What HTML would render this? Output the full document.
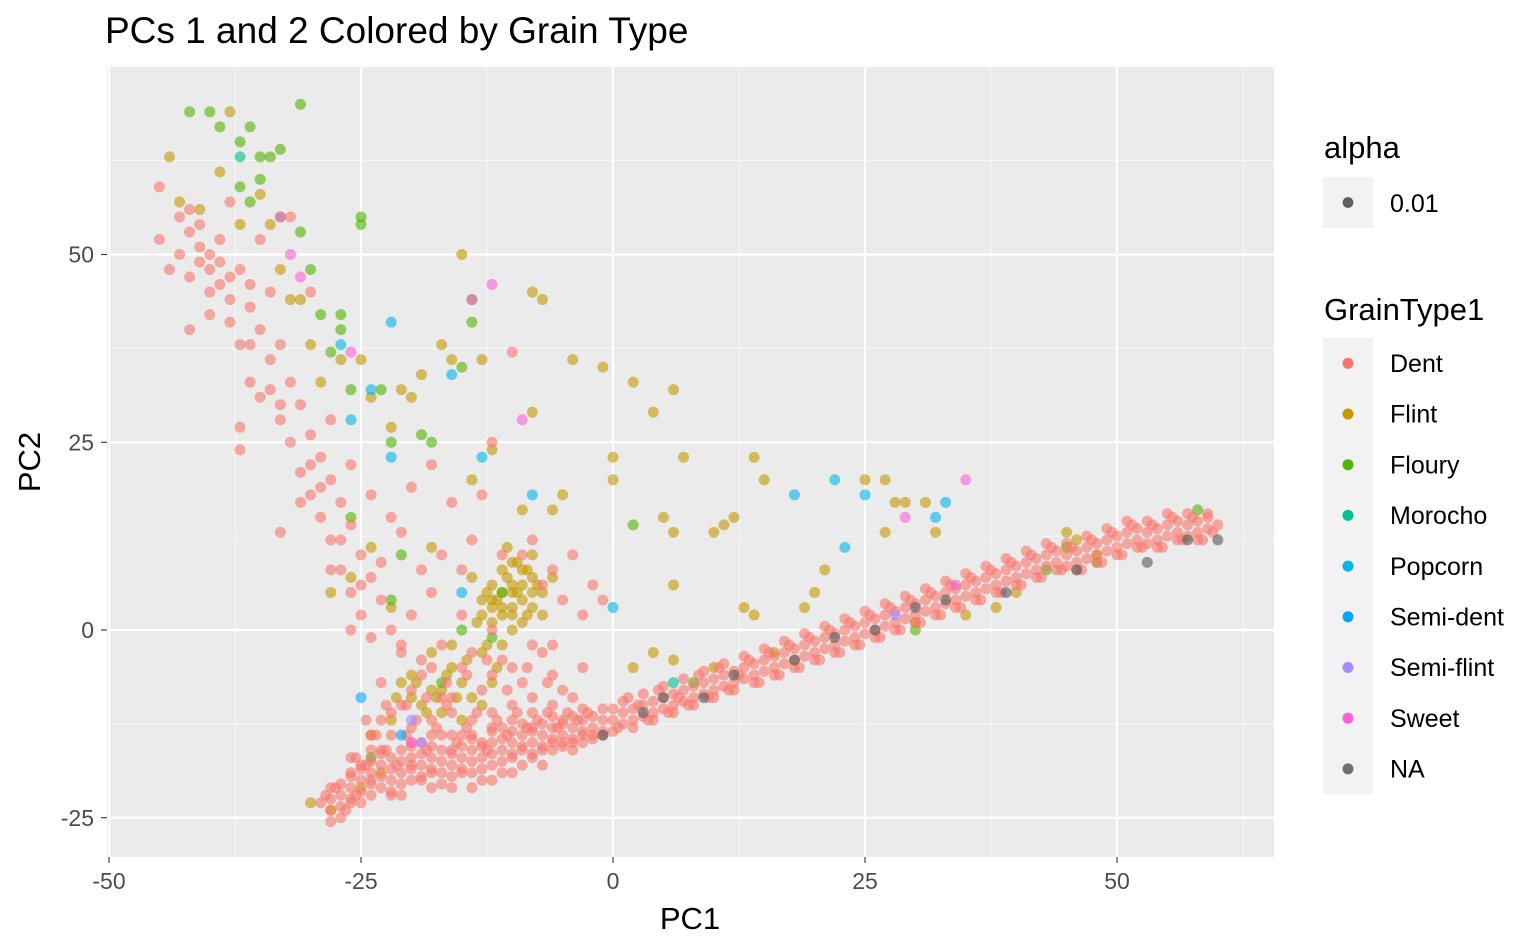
<!DOCTYPE html>
<html><head><meta charset="utf-8"><style>
html,body{margin:0;padding:0;background:#fff;width:1540px;height:951px;overflow:hidden}
svg text{font-family:"Liberation Sans",Arial,sans-serif}
</style></head><body>
<svg id="chart" width="1540" height="951" xmlns="http://www.w3.org/2000/svg">
<text x="105" y="43" font-size="37" fill="#000">PCs 1 and 2 Colored by Grain Type</text>
<rect x="107" y="67" width="1167" height="790" fill="#EBEBEB"/>
<g id="grid"></g><g id="pts"></g><g id="axes"></g>
<text x="690" y="929" font-size="31" text-anchor="middle">PC1</text>
<text transform="translate(40,462) rotate(-90)" font-size="31" text-anchor="middle">PC2</text>
<g id="legend"></g>
</svg>
<script>
const xTicks=[-50,-25,0,25,50];
const yTicks=[-25,0,25,50];
const groups=["Flint","Floury","Dent","Morocho","Popcorn","Semi-dent","Semi-flint","Sweet","NA"];
const legendOrder=["Dent","Flint","Floury","Morocho","Popcorn","Semi-dent","Semi-flint","Sweet","NA"];
const colors={Dent:"#F8766D",Flint:"#C49A00",Floury:"#53B400",Morocho:"#00C094",Popcorn:"#00B6EB","Semi-dent":"#06A4FF","Semi-flint":"#A58AFF",Sweet:"#FB61D7",NA:"#595959"};
const dent=[[-28,-24],[-27,-22],[-26,-21],[-25,-20],[-24,-19],[-23,-18],[-22,-20],[-21,-19],[-20,-17],[-19,-18],[-18,-17],[-17,-19],[-16,-18],[-15,-17],[-14,-16],[-13,-17],[-12,-15],[-11,-16],[-10,-15],[-9,-14],[-8,-15],[-7,-14],[-6,-13],[-5,-14],[-4,-13],[-3,-12],[-2,-13],[-1,-12],[0,-12],[1,-11],[2,-12],[3,-10],[4,-11],[5,-9],[6,-10],[7,-8],[8,-9],[9,-7],[10,-8],[11,-6],[12,-7],[13,-5],[14,-6],[15,-4],[16,-5],[17,-3],[18,-4],[19,-2],[20,-3],[21,-1],[22,-2],[23,0],[24,-1],[25,1],[26,0],[27,2],[28,1],[29,3],[30,2],[31,4],[32,3],[33,5],[34,4],[35,6],[36,5],[37,7],[38,6],[39,8],[40,7],[41,9],[42,8],[43,10],[44,9],[45,10],[46,9],[47,11],[48,10],[49,12],[50,11],[51,13],[52,12],[53,13],[54,12],[55,14],[56,13],[57,14],[58,13],[59,15],[60,14],
[-27,-25],[-26,-19],[-25,-23],[-24,-22],[-23,-21],[-22,-17],[-21,-22],[-20,-20],[-19,-15],[-18,-21],[-17,-16],[-16,-21],[-15,-19],[-14,-19],[-13,-20],[-12,-18],[-11,-19],[-10,-17],[-9,-18],[-8,-17],[-7,-16],[-6,-16],[-5,-15],[-4,-16],[-3,-15],[-2,-14],[-1,-14],[0.5,-13],[1.5,-9],[2.5,-10],[3.5,-12],[4.5,-8],[5.5,-11],[6.5,-9],[7.5,-10],[8.5,-6],[9.5,-9],[10.5,-5],[11.5,-8],[12.5,-6],[13.5,-4],[14.5,-7],[15.5,-3],[16.5,-6],[17.5,-2],[18.5,-5],[19.5,-1],[20.5,-4],[21.5,0],[22.5,-3],[23.5,1],[24.5,-2],[25.5,2],[26.5,-1],[27.5,3],[28.5,0],[29.5,4],[30.5,1],[31.5,5],[32.5,2],[33.5,6],[34.5,3],[35.5,7],[36.5,4],[37.5,8],[38.5,5],[39.5,9],[40.5,6],[41.5,10],[42.5,7],[43.5,11],[44.5,8],[45.5,11],[46.5,8],[47.5,12],[48.5,9],[49.5,13],[50.5,10],[51.5,14],[52.5,11],[53.5,14],[54.5,11],[55.5,15],[56.5,12],[57.5,15],[58.5,12],[59.5,13],
[-28,-22.5],[-28,-25.5],[-27,-20.5],[-27,-23.5],[-26,-19.5],[-26,-22.5],[-25,-18.5],[-25,-21.5],[-24,-17.5],[-24,-20.5],[-23,-16.5],[-23,-19.5],[-22,-18.5],[-22,-21.5],[-21,-17.5],[-21,-20.5],[-20,-15.5],[-20,-18.5],[-19,-16.5],[-19,-19.5],[-18,-15.5],[-18,-18.5],[-17,-17.5],[-17,-20.5],[-16,-16.5],[-16,-19.5],[-15,-15.5],[-15,-18.5],[-14,-14.5],[-14,-17.5],[-13,-15.5],[-13,-18.5],[-12,-13.5],[-12,-16.5],[-11,-14.5],[-11,-17.5],[-10,-13.5],[-10,-16.5],[-9,-12.5],[-9,-15.5],[-8,-13.5],[-8,-16.5],[-7,-12.5],[-7,-15.5],[-6,-11.5],[-6,-14.5],[-5,-12.5],[-5,-15.5],[-4,-11.5],[-4,-14.5],[-3,-10.5],[-3,-13.5],[-2,-11.5],[-2,-14.5],[-1,-10.5],[-1,-13.5],[0,-10.5],[0,-13.5],
[1,-9.5],[1,-12.5],[2,-10.5],[2,-13],[3,-8.5],[3,-11.5],[4,-9.5],[4,-12],[5,-7.5],[5,-10.5],[6,-8.5],[6,-11],[7,-6.5],[7,-9.5],[8,-7.5],[8,-10],[9,-5.5],[9,-8.5],[10,-6.5],[10,-9],[11,-4.5],[11,-7.5],[12,-5.5],[12,-8],[13,-3.5],[13,-6.5],[14,-4.5],[14,-7],[15,-2.5],[15,-5.5],[16,-3.5],[16,-6],[17,-1.5],[17,-4.5],[18,-2.5],[18,-5],[19,-0.5],[19,-3.5],[20,-1.5],[20,-4],[21,0.5],[21,-2.5],[22,-0.5],[22,-3],[23,1.5],[23,-1.5],[24,0.5],[24,-2],[25,2.5],[25,-0.5],[26,1.5],[26,-1],[27,3.5],[27,0.5],[28,2.5],[28,0],[29,4.5],[29,1.5],[30,3.5],[30,1],[31,5.5],[31,2.5],[32,4.5],[32,2],[33,6.5],[33,3.5],[34,5.5],[34,3],[35,7.5],[35,4.5],[36,6.5],[36,4],[37,8.5],[37,5.5],[38,7.5],[38,5],[39,9.5],[39,6.5],[40,8.5],[40,6],[41,10.5],[41,7.5],[42,9.5],[42,7],[43,11.5],[43,8.5],[44,10.5],[44,8],[45,11.5],[45,8.5],[46,10.5],[46,8],[47,12.5],[47,9.5],[48,11.5],[48,9],[49,13.5],[49,10.5],[50,12.5],[50,10],[51,14.5],[51,11.5],[52,13.5],[52,11],[53,14.5],[53,11.5],[54,13.5],[54,11],[55,15.5],[55,12.5],[56,14.5],[56,12],[57,15.5],[57,12.5],[58,14.5],[58,12],[59,15.5],[59,13.5],
[-25.5,-17],[-24.5,-18],[-23.5,-14],[-22.5,-16],[-21.5,-18],[-20.5,-14],[-19.5,-12],[-18.5,-16],[-17.5,-13],[-16.5,-10],[-15.5,-15],[-14.5,-13],[-13.5,-11],[-12.5,-16],[-11.5,-12],[-10.5,-14],[-9.5,-11],[-8.5,-13],[-7.5,-12],[-6.5,-11],[-5.5,-13],[-4.5,-11],[-3.5,-12],[-2.5,-11],[-24.5,-12],[-22.5,-10],[-20.5,-10],[-18.5,-9],[-16.5,-7],[-14.5,-6],[-12.5,-4],[-10.5,-8],[-8.5,-5],[-6.5,-7],[-27.5,-21],[-26.5,-24],[-25.5,-22],[-28.5,-22],
[-24,-16],[-22,-14],[-20,-13],[-18,-12],[-16,-14],[-14,-12],[-12,-11],[-10,-12],[-8,-11],[-6,-10],[-21,-10],[-17,-9],[-13,-8],[-9,-7],[-5,-8],[-19,-6],[-15,-5],[-11,-4],[-7,-3],[-23,-12],
[-26,-23],[-25,-18],[-24,-20],[-23,-16],[-22,-22],[-21,-16],[-20,-18],[-19,-20],[-18,-19],[-17,-14],[-16,-16],[-15,-14],[-14,-21],[-13,-15],[-12,-20],[-11,-13],[-10,-19],[-9,-16],[-8,-13],[-7,-18],[-6,-15],[-5,-12],[-4,-15],[-3,-14],[-29,-23],[-28,-21],[-26,-17],[-24,-14],[-22,-11],[-20,-15],[-18,-14],[-16,-11],[-14,-14],[-12,-13],[-10,-10],[-8,-9],
[-45,59],[-45,52],[-44,48],[-43,55],[-43,50],[-42,53],[-42,47],[-41,51],[-41,49],[-40,48],[-40,45],[-39,52],[-39,46],[-38,44],[-38,41],[-37,48],[-37,38],[-36,43],[-36,33],[-35,40],[-35,31],[-34,45],[-34,36],[-33,28],[-33,38],[-32,25],[-32,33],[-31,21],[-31,30],[-30,18],[-30,26],[-29,15],[-29,23],[-28,12],[-28,20],[-27,8],[-27,17],[-26,5],[-26,14],[-25,2],[-25,10],[-24,-1],[-24,7],[-23,4],[-22,0],[-21,-3],[-20,2],[-19,-4],[-18,5],[-17,-2],[-37,27],[-37,24],[-40,42],[-42,40],[-33,13],[-31,17],[-28,28],[-26,22],[-24,18],[-22,15],[-20,19],[-18,22],[-16,17],[-14,12],[-12,25],[-10,37],[-13,18],[-9,10],[-7,6],[-5,4],[-3,2],[-1,4],[-6,-2],[-3,-5],[-30,45],[-32,55],[-35,52],[-38,57],[-40,50],[-36,46],[-28,8],[-26,0],[-23,-7],[-21,-2],[-16,-9],[-15,2],[-12,0],[-10,-5],[-8,-2],[-42,56],[-41,54],[-39,49],[-38,47],[-36,38],[-34,32],[-33,30],[-30,22],[-29,19],[-27,12],[-25,6],[-23,9],[-21,13],[-19,8],[-17,10],[-15,8],[-11,10],[-8,12],[-6,8],[-4,10],[-2,6],[-20,-8],[-18,-5],[-14,-3],[-12,-6],[-6,-6],[-4,-9]];
const flint=[[-44,63],[-43,57],[-41,56],[-38,69],[-39,61],[-37,54],[-35,58],[-34,54],[-33,48],[-32,44],[-31,44],[-30,38],[-29,33],[-27,36],[-25,36],[-24,31],[-22,27],[-21,32],[-20,31],[-19,34],[-17,38],[-16,36],[-15,50],[-13,36],[-8,45],[-7,44],[-4,36],[-1,35],[2,33],[4,29],[6,32],[7,23],[14,23],[15,20],[25,20],[27,20],[28,17],[29,17],[31,17],[32,13],[27,13],[21,8],[20,5],[19,3],[13,3],[14,2],[10,13],[11,14],[12,15],[6,13],[5,15],[6,6],[0,23],[0,20],[-5,18],[-6,16],[-8,29],[-9,16],[-12,24],[-14,20],[-18,11],[-24,11],[-26,7],[-28,5],[-22,3],[-20,-6],[-17,-8],[-15,-12],[-13,-10],[-12,3],[-11,5],[-10,6],[-9,4],[-8,7],[-11,2],[-10,3],[-12,6],[-9,8],[-8,3],[-7,5],[-13,4],[-11,8],[-10,9],[-9,1],[-12,1],[-8,10],[-14,7],[-7,2],[-6,7],[-10,0],[-11,-2],[-13,-3],[-16,-5],[-18,-8],[-20,-9],[-22,-12],[-24,-14],[2,-5],[4,-3],[6,-4],[10,-5],[16,-3],[30,1],[35,2],[45,13],[46,12],[48,10],[40,5],[38,3],[-28,-24],[-30,-23],[-25,-21],[-23,-19],[-12,4],[-10,5],[-9,6],[-11,3],[-8,5],[-10,2],[-13,2],[-15,-7],[-17,-11],[-19,-10],[-21,-7],[-14,-9],[-12,-7],[-16,-2],[-18,-3],
[-11.5,4],[-10.5,7],[-9.5,5],[-8.5,2],[-12.5,5],[-9.5,9],[-10.5,11],[-8.5,8],[-7.5,6],[-13.5,1],[-12.5,-2],[-14.5,-4],[-16.5,-6],[-17.5,-9],[-19.5,-7],[-21.5,-9],[-18.5,-11],[-15.5,-9],[-11.5,-5]];
const floury=[[-42,69],[-40,69],[-39,67],[-37,65],[-36,67],[-35,63],[-34,63],[-37,59],[-36,57],[-35,60],[-33,55],[-31,53],[-31,70],[-33,64],[-30,48],[-29,42],[-27,42],[-27,40],[-25,55],[-25,54],[-28,37],[-26,32],[-23,32],[-22,25],[-19,26],[-18,25],[-14,44],[-14,41],[-15,35],[-26,15],[-21,10],[-22,4],[-15,0],[-11,5],[-12,-1],[-17,-7],[-24,-17],[2,14],[45,11],[48,9],[58,16],[43,8],[30,0],[8,-7]];
const morocho=[[-37,63],[6,-7]];
const popcorn=[[-22,41],[-27,38],[-26,28],[-24,32],[-16,34],[-13,23],[-8,18],[0,3],[18,18],[22,20],[25,18],[23,11],[32,15],[33,17],[-22,23],[-15,5]];
const semiDent=[[-25,-9],[-21,-14]];
const semiFlint=[[-19,-15],[28,2],[-20,-12]];
const sweet=[[-33,55],[-32,50],[-31,47],[-14,44],[-12,46],[-9,28],[29,15],[35,20],[-26,37],[34,6],[-20,-15]];
const naPts=[[60,12],[57,12],[53,9],[46,8],[39,5],[33,4],[30,3],[26,0],[22,-1],[12,-6],[9,-9],[5,-9],[3,-11],[-1,-14],[18,-4]];
const series={Flint:flint,Floury:floury,Dent:dent,Morocho:morocho,Popcorn:popcorn,"Semi-dent":semiDent,"Semi-flint":semiFlint,Sweet:sweet,NA:naPts};

const NS="http://www.w3.org/2000/svg";
const X=v=>613+v*10.08, Y=v=>630-v*7.51;
function mk(tag,attrs,parent){const e=document.createElementNS(NS,tag);for(const k in attrs)e.setAttribute(k,attrs[k]);parent.appendChild(e);return e;}
const grid=document.getElementById('grid');
[-37.5,-12.5,12.5,37.5,62.5].forEach(v=>{const l=mk('line',{x1:X(v),x2:X(v),y1:67,y2:857,stroke:'#F7F7F7','stroke-width':1},grid);

});
[-12.5,12.5,37.5,62.5].forEach(v=>{const l=mk('line',{x1:107,x2:1274,y1:Y(v),y2:Y(v),stroke:'#F7F7F7','stroke-width':1},grid);

});
const axes=document.getElementById('axes');
xTicks.forEach(v=>{const l=mk('line',{x1:X(v),x2:X(v),y1:67,y2:857,stroke:'#fff','stroke-width':2.2},grid);


const t=mk('line',{x1:X(v),x2:X(v),y1:857,y2:863,stroke:'#333','stroke-width':1.1},axes);


const tx=mk('text',{x:X(v),y:889,'font-size':23,'text-anchor':'middle',fill:'#4D4D4D'},axes);tx.textContent=v;

});
yTicks.forEach(v=>{const l=mk('line',{x1:107,x2:1274,y1:Y(v),y2:Y(v),stroke:'#fff','stroke-width':2.2},grid);


const t=mk('line',{x1:101,x2:107,y1:Y(v),y2:Y(v),stroke:'#333','stroke-width':1.1},axes);


const tx=mk('text',{x:94,y:Y(v)+8,'font-size':23,'text-anchor':'end',fill:'#4D4D4D'},axes);tx.textContent=v;

});
const pts=document.getElementById('pts');
groups.forEach(g=>{series[g].forEach(p=>{const c=mk('circle',{cx:X(p[0]),cy:Y(p[1]),r:5.5,fill:colors[g],'fill-opacity':0.6},pts);

});});
const lg=document.getElementById('legend');
let t=mk('text',{x:1324,y:158,'font-size':31},lg);t.textContent='alpha';


let r=mk('rect',{x:1323,y:177,width:50,height:51,fill:'#F2F2F2'},lg);


mk('circle',{cx:1348,cy:202.5,r:5,fill:'#000','fill-opacity':0.6,stroke:'#000','stroke-opacity':0.4},lg);
t=mk('text',{x:1390,y:212,'font-size':25},lg);t.textContent='0.01';


t=mk('text',{x:1324,y:320,'font-size':31},lg);t.textContent='GrainType1';


legendOrder.forEach((g,i)=>{const y0=338+i*50.7;
const k=mk('rect',{x:1323,y:y0,width:50,height:50.7,fill:'#F2F2F2'},lg);


mk('circle',{cx:1348,cy:y0+25.3,r:5.5,fill:colors[g],'fill-opacity':g==='NA'?0.85:1},lg);
const tl=mk('text',{x:1390,y:y0+34,'font-size':25},lg);tl.textContent=g;

});
</script>
</body></html>
